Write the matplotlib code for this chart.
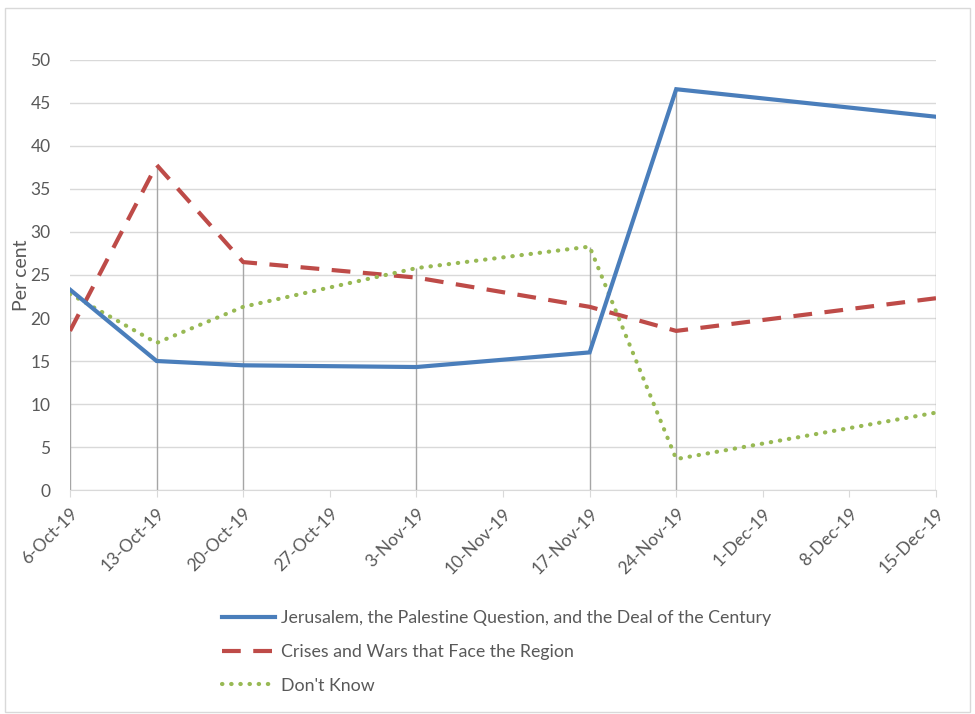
import numpy as np
import matplotlib
matplotlib.use('Agg')
import matplotlib.pyplot as plt
import matplotlib.dates as mdates
from matplotlib.patches import Rectangle
from datetime import date

plt.rcParams['font.family'] = ['Lato', 'DejaVu Sans']

dates = [date(2019, 10, 6), date(2019, 10, 13), date(2019, 10, 20), date(2019, 11, 3),
         date(2019, 11, 17), date(2019, 11, 24), date(2019, 12, 15)]
jerusalem = [23.3, 15.0, 14.5, 14.3, 16.0, 46.6, 43.4]
crises = [18.5, 37.8, 26.5, 24.7, 21.3, 18.5, 22.3]
dont_know = [22.8, 17.1, 21.3, 25.8, 28.3, 3.6, 9.0]
labels = ['Jerusalem, the Palestine Question, and the Deal of the Century',
          'Crises and Wars that Face the Region',
          "Don't Know"]

fig = plt.figure(figsize=(9.75, 7.14), dpi=100)
fig.patches.append(Rectangle((0.005, 0.003), 0.99, 0.986, transform=fig.transFigure,
                             fill=False, edgecolor='#d9d9d9', linewidth=1))
ax = fig.add_axes([0.0718, 0.3137, 0.8882, 0.6023])

x = mdates.date2num(dates)
tops = np.max([jerusalem, crises, dont_know], axis=0)
ax.vlines(x, 0, tops, color='#a6a6a6', linewidth=1, zorder=2)

ax.plot(x, jerusalem, color='#4A7EBB', linewidth=3, solid_joinstyle='miter', label=labels[0], zorder=4)
ax.plot(x, crises, color='#BE4B48', linewidth=3, dashes=(4.5, 3), label=labels[1], zorder=3)
ax.plot(x, dont_know, color='#98B954', linewidth=3, linestyle=(0, (0.1, 2.1)),
        dash_capstyle='round', label=labels[2], zorder=3)

start = mdates.date2num(date(2019, 10, 6))
ticks = [start + 7 * i for i in range(11)]
ax.set_xticks(ticks)
ax.set_xticklabels([mdates.num2date(t).strftime('%-d-%b-%y') for t in ticks],
                   rotation=45, ha='right', rotation_mode='anchor')
ax.set_xlim(ticks[0], ticks[-1])
ax.set_ylim(0, 50)
ax.set_yticks(range(0, 51, 5))
ax.yaxis.grid(True, color='#d9d9d9', linewidth=1)
ax.set_axisbelow(True)

for s in ['top', 'right', 'left']:
    ax.spines[s].set_visible(False)
ax.spines['bottom'].set_color('#d9d9d9')
ax.tick_params(axis='y', length=0, pad=14, labelsize=12.5, labelcolor='#595959')
ax.tick_params(axis='x', length=5, color='#d9d9d9', direction='out', labelsize=12.5,
               labelcolor='#595959', pad=6)
ax.set_ylabel('Per cent', fontsize=14, color='#595959', labelpad=0)

fig.legend(loc='upper left', bbox_to_anchor=(222 / 975, 1 - 610 / 714), frameon=False,
           fontsize=12.8, labelcolor='#595959', handlelength=3.0, handletextpad=0.3,
           labelspacing=1.0, borderpad=0, borderaxespad=0)

fig.savefig('out.png', dpi=100)
